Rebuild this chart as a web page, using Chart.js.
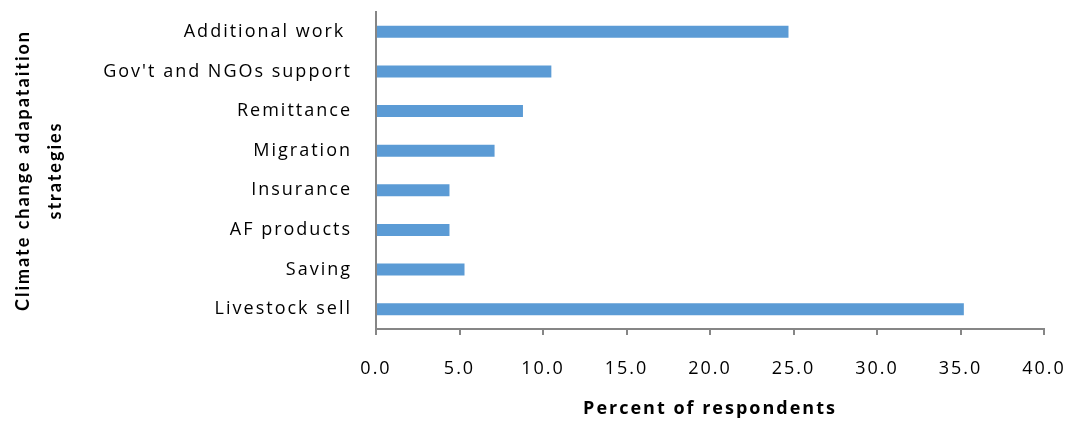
<!DOCTYPE html>
<html>
<head>
<meta charset="utf-8">
<script src="https://cdn.jsdelivr.net/npm/chart.js@4/dist/chart.umd.min.js"></script>
<style>
  html, body { margin: 0; padding: 0; background: #fff; }
  #wrap { width: 1072px; height: 424px; position: relative; }
</style>
</head>
<body>
<div id="wrap"><canvas id="chart"></canvas></div>
<script>
const strategies = [
  'Additional work ',
  "Gov't and NGOs support",
  'Remittance',
  'Migration',
  'Insurance',
  'AF products',
  'Saving',
  'Livestock sell'
];
const percentRespondents = [24.7, 10.5, 8.8, 7.1, 4.4, 4.4, 5.3, 35.2];
const axisMin = 0;
const axisMax = 40;
const axisStep = 5;

const axisGrey = '#868686';
const fontFamily = '"Open Sans", Lato, sans-serif';

// canvas state is reset on resize, so the spacing has to be put back before layout and draw
const letterSpacing = {
  id: 'letterSpacing',
  beforeUpdate(chart) {
    chart.ctx.letterSpacing = '2px';
  },
  beforeDraw(chart) {
    chart.ctx.letterSpacing = '2px';
  }
};

new Chart(document.getElementById('chart'), {
  type: 'bar',
  data: {
    labels: strategies,
    datasets: [{
      data: percentRespondents,
      backgroundColor: '#5B9BD5',
      borderWidth: 0,
      barPercentage: 0.3,
      categoryPercentage: 1
    }]
  },
  options: {
    indexAxis: 'y',
    responsive: true,
    maintainAspectRatio: false,
    animation: false,
    layout: {
      padding: {top: 12, right: 28, bottom: 0, left: 0}
    },
    plugins: {
      legend: {display: false},
      tooltip: {enabled: false}
    },
    scales: {
      x: {
        min: axisMin,
        max: axisMax,
        afterFit(scale) {
          // fixed band under the plot; label overhang is covered by layout padding
          scale.height = 95;
          scale.paddingLeft = 0;
          scale.paddingRight = 0;
        },
        ticks: {
          stepSize: axisStep,
          padding: 23,
          color: '#000',
          font: {family: fontFamily, size: 18},
          maxRotation: 0,
          callback: (value) => value.toFixed(1)
        },
        grid: {
          drawOnChartArea: false,
          drawTicks: true,
          tickLength: 6,
          color: axisGrey,
          lineWidth: 2
        },
        border: {color: axisGrey, width: 2},
        title: {
          display: true,
          text: 'Percent of respondents',
          color: '#000',
          font: {family: fontFamily, size: 18, weight: 'bold', lineHeight: 1.2},
          padding: {top: 0, bottom: 4}
        }
      },
      y: {
        afterFit(scale) {
          scale.width = 376;
          scale.paddingTop = 0;
          scale.paddingBottom = 0;
        },
        ticks: {
          padding: 24,
          color: '#000',
          font: {family: fontFamily, size: 18}
        },
        grid: {
          display: false,
          drawTicks: false
        },
        border: {color: axisGrey, width: 2},
        title: {
          display: true,
          text: ['Climate change adapataition', 'strategies'],
          color: '#000',
          font: {family: 'Lato, "Open Sans", sans-serif', size: 18, weight: 'bold', lineHeight: 1.78},
          padding: {top: 7, bottom: 0}
        }
      }
    }
  },
  plugins: [letterSpacing]
});
</script>
</body>
</html>
